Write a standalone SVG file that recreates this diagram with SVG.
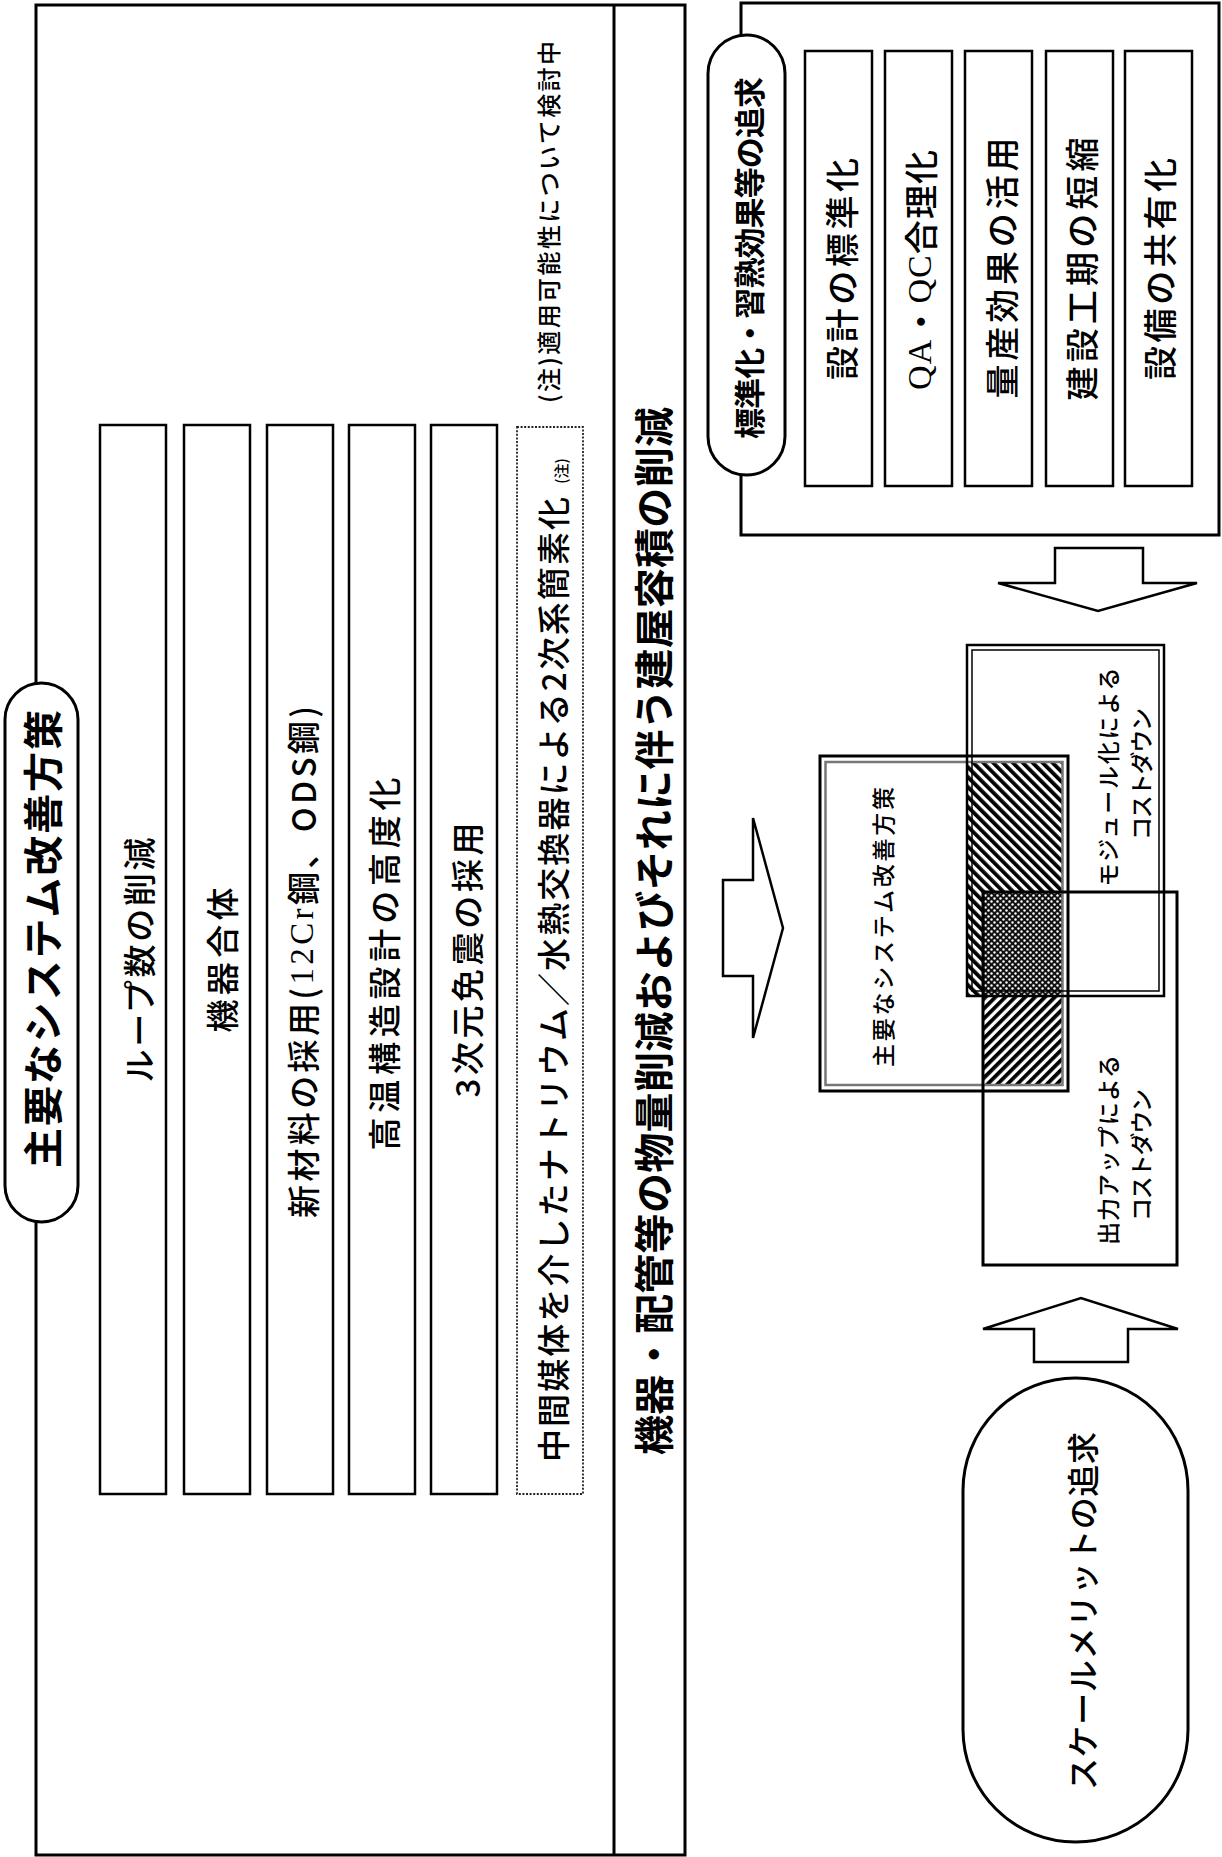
<svg xmlns="http://www.w3.org/2000/svg" width="1222" height="1857" viewBox="0 0 1222 1857">
<style>
text{font-family:"Noto Sans CJK JP","Noto Sans CJK SC",sans-serif;fill:#000;text-anchor:middle;dominant-baseline:central;font-weight:500}
.title{font-weight:700}
.frame{fill:none;stroke:#000;stroke-width:3}
.box{fill:#fff;stroke:#000;stroke-width:2.5}
.pill{fill:#fff;stroke:#000;stroke-width:3}
.arrow{fill:#fff;stroke:#000;stroke-width:2.5;stroke-linejoin:miter}
.dotted{fill:#fff;stroke:#222;stroke-width:1.8;stroke-dasharray:2 1.6}
.serif{font-family:"Liberation Serif",serif}
</style>
<defs>
<pattern id="hatchA" patternUnits="userSpaceOnUse" width="7" height="7" patternTransform="rotate(-45)">
<rect width="7" height="7" fill="#fff"/><rect width="3.8" height="7" fill="#000"/>
</pattern>
<pattern id="hatchB" patternUnits="userSpaceOnUse" width="7" height="7" patternTransform="rotate(45)">
<rect width="7" height="7" fill="#fff"/><rect width="3.8" height="7" fill="#000"/>
</pattern>
<pattern id="dots" patternUnits="userSpaceOnUse" width="6" height="6">
<rect width="6" height="6" fill="#111"/><circle cx="1.5" cy="1.5" r="1.2" fill="#fff"/><circle cx="4.5" cy="4.5" r="1.2" fill="#fff"/>
</pattern>
</defs>

<!-- Left frame: major system improvements -->
<g id="left-frame">
<rect class="frame" x="36" y="5" width="649" height="1850"/>
<line x1="614" y1="5" x2="614" y2="1855" stroke="#000" stroke-width="3"/>
</g>
<g id="left-title">
<rect class="pill" x="5" y="683" width="73" height="539" rx="36.5" ry="36.5"/>
<text class="title" transform="translate(41,939) rotate(-90)" font-size="40" textLength="458" lengthAdjust="spacing">主要なシステム改善方策</text>
</g>
<g id="item-loop">
<rect class="box" x="100" y="425" width="66" height="1069"/>
<text transform="translate(138,960) rotate(-90)" font-size="33" textLength="245" lengthAdjust="spacing">ループ数の削減</text>
</g>
<g id="item-kiki">
<rect class="box" x="184" y="425" width="66" height="1069"/>
<text transform="translate(221,960) rotate(-90)" font-size="33" textLength="145" lengthAdjust="spacing">機器合体</text>
</g>
<g id="item-material">
<rect class="box" x="267" y="425" width="66" height="1069"/>
<text transform="translate(302,962) rotate(-90)" font-size="33" textLength="512" lengthAdjust="spacing">新材料の採用(<tspan class="serif">12Cr</tspan>鋼、ODS鋼)</text>
</g>
<g id="item-hightemp">
<rect class="box" x="349" y="425" width="66" height="1069"/>
<text transform="translate(383,964) rotate(-90)" font-size="33" textLength="373" lengthAdjust="spacing">高温構造設計の高度化</text>
</g>
<g id="item-seismic">
<rect class="box" x="431" y="425" width="66" height="1069"/>
<text transform="translate(466,960) rotate(-90)" font-size="33" textLength="275" lengthAdjust="spacing">3次元免震の採用</text>
</g>
<g id="item-secondary">
<rect class="dotted" x="517" y="427" width="66" height="1067"/>
<text transform="translate(552,1462) rotate(-90)" font-size="33" style="text-anchor:start" textLength="965" lengthAdjust="spacing">中間媒体を介したナトリウム／水熱交換器による2次系簡素化</text>
<text transform="translate(560,471) rotate(-90)" font-size="15">(注)</text>
</g>
<g id="note">
<text transform="translate(547,222) rotate(-90)" font-size="24" textLength="362" lengthAdjust="spacing">(注)適用可能性について検討中</text>
</g>
<g id="left-footer">
<text class="title" transform="translate(652,931) rotate(-90)" font-size="40" textLength="1048" lengthAdjust="spacing">機器・配管等の物量削減およびそれに伴う建屋容積の削減</text>
</g>

<!-- Top-right frame: standardization -->
<g id="std-frame">
<rect class="frame" x="741" y="3" width="478" height="532"/>
</g>
<g id="std-title">
<rect class="pill" x="708" y="35" width="77" height="440" rx="38.5" ry="38.5"/>
<text class="title" transform="translate(747,258) rotate(-90)" font-size="31" textLength="362" lengthAdjust="spacing">標準化・習熟効果等の追求</text>
</g>
<g id="std-design">
<rect class="box" x="805" y="51" width="67" height="435"/>
<text transform="translate(840,269) rotate(-90)" font-size="34" textLength="222" lengthAdjust="spacing">設計の標準化</text>
</g>
<g id="std-qaqc">
<rect class="box" x="885" y="51" width="67" height="435"/>
<text transform="translate(919,270) rotate(-90)" font-size="34" textLength="240" lengthAdjust="spacing"><tspan class="serif">QA</tspan>・<tspan class="serif">QC</tspan>合理化</text>
</g>
<g id="std-mass">
<rect class="box" x="965" y="51" width="67" height="435"/>
<text transform="translate(1000,268) rotate(-90)" font-size="34" textLength="261" lengthAdjust="spacing">量産効果の活用</text>
</g>
<g id="std-period">
<rect class="box" x="1046" y="51" width="67" height="435"/>
<text transform="translate(1080,269) rotate(-90)" font-size="34" textLength="263" lengthAdjust="spacing">建設工期の短縮</text>
</g>
<g id="std-share">
<rect class="box" x="1125" y="51" width="67" height="435"/>
<text transform="translate(1158,269) rotate(-90)" font-size="34" textLength="222" lengthAdjust="spacing">設備の共有化</text>
</g>

<!-- Scale merit -->
<g id="scale-merit">
<rect class="pill" x="963" y="1378" width="225" height="464" rx="112.5" ry="112.5"/>
<text transform="translate(1081,1611) rotate(-90)" font-size="32" textLength="358" lengthAdjust="spacing">スケールメリットの追求</text>
</g>

<!-- Center overlap diagram -->
<g id="overlap">
<rect x="820" y="756" width="248" height="335" fill="#fff"/>
<rect x="967" y="763" width="96" height="233" fill="url(#hatchA)"/>
<rect x="983" y="996" width="80" height="88" fill="url(#hatchB)"/>
<rect x="983" y="892" width="80" height="104" fill="url(#dots)"/>
</g>
<g id="main-box">
<rect x="820" y="756" width="248" height="335" fill="none" stroke="#000" stroke-width="3"/>
<rect x="825.5" y="762" width="237" height="323" fill="none" stroke="#777" stroke-width="2.5"/>
<text transform="translate(882,927) rotate(-90)" font-size="23" textLength="280" lengthAdjust="spacing">主要なシステム改善方策</text>
</g>
<g id="module-box">
<rect x="967" y="645" width="197" height="351" fill="none" stroke="#000" stroke-width="2.5"/>
<rect x="972" y="650" width="187" height="341" fill="none" stroke="#000" stroke-width="1.5"/>
<text transform="translate(1107,777) rotate(-90)" font-size="23" textLength="219" lengthAdjust="spacing">モジュール化による</text>
<text transform="translate(1140,774) rotate(-90)" font-size="23" textLength="132" lengthAdjust="spacing">コストダウン</text>
</g>
<g id="output-box">
<rect x="983" y="892" width="194" height="373" fill="none" stroke="#000" stroke-width="3"/>
<text transform="translate(1107,1150) rotate(-90)" font-size="23" textLength="190" lengthAdjust="spacing">出力アップによる</text>
<text transform="translate(1140,1155) rotate(-90)" font-size="23" textLength="132" lengthAdjust="spacing">コストダウン</text>
</g>

<!-- Connectors (block arrows) -->
<g id="connectors">
<polygon class="arrow" points="1055,548 1143,548 1143,583 1197,583 1098,611 998,583 1055,583"/>
<polygon class="arrow" points="723,880 753,880 753,818 783,928 753,1038 753,976 723,976"/>
<polygon class="arrow" points="1034,1362 1034,1329 983,1329 1081,1298 1178,1329 1128,1329 1128,1362"/>
</g>
</svg>
